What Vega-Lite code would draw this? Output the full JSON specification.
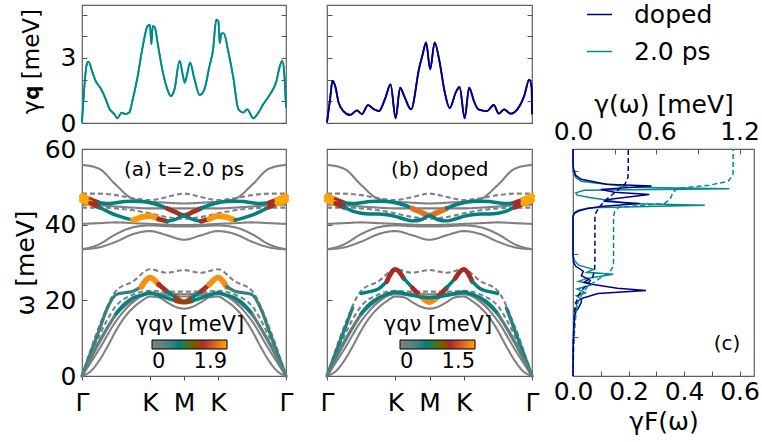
{
"$schema":"https://vega.github.io/schema/vega-lite/v6.json",
"padding":{"left":12,"top":0,"right":0,"bottom":0},
"background":"white",
"columns":3,
"bounds":"flush",
"align":"each",
"spacing":{"row":26,"column":41},
"config":{
 "font":"DejaVu Sans",
 "view":{"stroke":"#606060","strokeWidth":1.2},
 "axis":{"labelFont":"DejaVu Sans","titleFont":"DejaVu Sans","labelFontSize":25,"titleFontSize":25,"titleFontWeight":"normal","labelColor":"black","titleColor":"black","tickColor":"#555","domain":false,"grid":false,"labelFlush":false,"labelOverlap":false,"tickWidth":1},
 "legend":{"labelFont":"DejaVu Sans","titleFont":"DejaVu Sans","titleFontWeight":"normal","labelColor":"black","titleColor":"black"}
},
"datasets":{
"topA":[{"x":0,"v":0.03},{"x":0.14,"v":2.7},{"x":0.19,"v":2.83},{"x":0.31,"v":2.32},{"x":0.4,"v":1.94},{"x":0.55,"v":1.6},{"x":0.7,"v":1.09},{"x":0.8,"v":0.68},{"x":0.95,"v":0.41},{"x":1.04,"v":0.22},{"x":1.17,"v":0.48},{"x":1.27,"v":0.41},{"x":1.39,"v":0.48},{"x":1.48,"v":1.0},{"x":1.63,"v":2.09},{"x":1.78,"v":3.47},{"x":1.93,"v":4.47},{"x":2.0,"v":4.52},{"x":2.04,"v":3.63},{"x":2.08,"v":4.47},{"x":2.14,"v":4.42},{"x":2.23,"v":3.63},{"x":2.38,"v":2.32},{"x":2.53,"v":1.47},{"x":2.61,"v":1.24},{"x":2.72,"v":1.55},{"x":2.87,"v":2.86},{"x":2.97,"v":2.17},{"x":3.02,"v":1.86},{"x":3.08,"v":2.17},{"x":3.18,"v":2.78},{"x":3.31,"v":2.0},{"x":3.46,"v":1.29},{"x":3.6,"v":1.55},{"x":3.75,"v":2.63},{"x":3.85,"v":3.32},{"x":3.95,"v":4.77},{"x":4.01,"v":4.7},{"x":4.05,"v":3.68},{"x":4.1,"v":4.13},{"x":4.17,"v":4.13},{"x":4.3,"v":3.32},{"x":4.45,"v":2.09},{"x":4.6,"v":0.63},{"x":4.74,"v":0.48},{"x":4.86,"v":0.63},{"x":5.04,"v":0.22},{"x":5.19,"v":0.48},{"x":5.33,"v":0.86},{"x":5.53,"v":1.32},{"x":5.72,"v":1.94},{"x":5.82,"v":2.63},{"x":5.89,"v":2.86},{"x":5.95,"v":2.25},{"x":6.0,"v":0.72}],
"topB":[{"x":0,"v":0.03},{"x":0.09,"v":1.09},{"x":0.16,"v":1.95},{"x":0.24,"v":1.7},{"x":0.34,"v":0.94},{"x":0.48,"v":0.55},{"x":0.68,"v":0.37},{"x":0.88,"v":0.58},{"x":1.02,"v":0.41},{"x":1.2,"v":0.82},{"x":1.37,"v":0.64},{"x":1.52,"v":0.55},{"x":1.71,"v":1.16},{"x":1.86,"v":1.78},{"x":2.01,"v":0.22},{"x":2.14,"v":1.63},{"x":2.26,"v":1.24},{"x":2.46,"v":0.63},{"x":2.7,"v":2.55},{"x":2.8,"v":3.16},{"x":2.9,"v":3.72},{"x":3.02,"v":2.47},{"x":3.15,"v":3.72},{"x":3.29,"v":2.86},{"x":3.44,"v":1.47},{"x":3.59,"v":0.69},{"x":3.77,"v":1.41},{"x":3.88,"v":1.66},{"x":4.03,"v":0.22},{"x":4.16,"v":1.63},{"x":4.3,"v":1.01},{"x":4.43,"v":0.63},{"x":4.68,"v":0.55},{"x":4.88,"v":0.83},{"x":5.03,"v":0.43},{"x":5.18,"v":0.63},{"x":5.37,"v":0.43},{"x":5.57,"v":0.63},{"x":5.77,"v":1.24},{"x":5.92,"v":2.0},{"x":5.99,"v":1.63},{"x":6.0,"v":0.4}],
"gray":[
{"b":"G1","x":0,"w":55.8},{"b":"G1","x":0.5,"w":54.8},{"b":"G1","x":1,"w":50.5},{"b":"G1","x":1.5,"w":46.8},{"b":"G1","x":2,"w":46.1},{"b":"G1","x":2.5,"w":45.8},{"b":"G1","x":3,"w":45.6},{"b":"G1","x":3.5,"w":45.8},{"b":"G1","x":4,"w":46.1},{"b":"G1","x":4.5,"w":46.8},{"b":"G1","x":5,"w":50.5},{"b":"G1","x":5.5,"w":54.8},{"b":"G1","x":6,"w":55.8},
{"b":"G2","x":0,"w":45.3},{"b":"G2","x":0.5,"w":45.1},{"b":"G2","x":1,"w":44.8},{"b":"G2","x":1.5,"w":44.5},{"b":"G2","x":2,"w":44.3},{"b":"G2","x":2.5,"w":44.3},{"b":"G2","x":3,"w":44.3},{"b":"G2","x":3.5,"w":44.3},{"b":"G2","x":4,"w":44.3},{"b":"G2","x":4.5,"w":44.5},{"b":"G2","x":5,"w":44.8},{"b":"G2","x":5.5,"w":45.1},{"b":"G2","x":6,"w":45.3},
{"b":"G3","x":0,"w":40.2},{"b":"G3","x":0.5,"w":40.4},{"b":"G3","x":1,"w":40.6},{"b":"G3","x":1.5,"w":40.4},{"b":"G3","x":2,"w":40.2},{"b":"G3","x":2.5,"w":40.0},{"b":"G3","x":3,"w":39.9},{"b":"G3","x":3.5,"w":40.0},{"b":"G3","x":4,"w":40.2},{"b":"G3","x":4.5,"w":40.4},{"b":"G3","x":5,"w":40.6},{"b":"G3","x":5.5,"w":40.4},{"b":"G3","x":6,"w":40.2},
{"b":"G4","x":0,"w":33.5},{"b":"G4","x":0.5,"w":34.8},{"b":"G4","x":1,"w":37.5},{"b":"G4","x":1.5,"w":39.3},{"b":"G4","x":2,"w":39.8},{"b":"G4","x":2.5,"w":39.6},{"b":"G4","x":3,"w":39.5},{"b":"G4","x":3.5,"w":39.6},{"b":"G4","x":4,"w":39.8},{"b":"G4","x":4.5,"w":39.3},{"b":"G4","x":5,"w":37.5},{"b":"G4","x":5.5,"w":34.8},{"b":"G4","x":6,"w":33.5},
{"b":"G5","x":0,"w":33.5},{"b":"G5","x":0.5,"w":34.0},{"b":"G5","x":1,"w":35.5},{"b":"G5","x":1.5,"w":37.5},{"b":"G5","x":2,"w":38.3},{"b":"G5","x":2.5,"w":37.2},{"b":"G5","x":3,"w":36.0},{"b":"G5","x":3.5,"w":37.2},{"b":"G5","x":4,"w":38.3},{"b":"G5","x":4.5,"w":37.5},{"b":"G5","x":5,"w":35.5},{"b":"G5","x":5.5,"w":34.0},{"b":"G5","x":6,"w":33.5},
{"b":"D1","x":0,"w":48.2},{"b":"D1","x":0.5,"w":48.2},{"b":"D1","x":1,"w":47.8},{"b":"D1","x":1.5,"w":47.0},{"b":"D1","x":2,"w":46.5},{"b":"D1","x":2.5,"w":47.3},{"b":"D1","x":3,"w":48.2},{"b":"D1","x":3.5,"w":47.3},{"b":"D1","x":4,"w":46.5},{"b":"D1","x":4.5,"w":47.0},{"b":"D1","x":5,"w":47.8},{"b":"D1","x":5.5,"w":48.2},{"b":"D1","x":6,"w":48.2},
{"b":"D2","x":0,"w":44.5},{"b":"D2","x":0.5,"w":44.5},{"b":"D2","x":1,"w":44.3},{"b":"D2","x":1.5,"w":43.8},{"b":"D2","x":2,"w":43.0},{"b":"D2","x":2.5,"w":42.0},{"b":"D2","x":3,"w":41.6},{"b":"D2","x":3.5,"w":42.0},{"b":"D2","x":4,"w":43.0},{"b":"D2","x":4.5,"w":43.8},{"b":"D2","x":5,"w":44.3},{"b":"D2","x":5.5,"w":44.5},{"b":"D2","x":6,"w":44.5},
{"b":"G6","x":0,"w":0},{"b":"G6","x":0.5,"w":8.5},{"b":"G6","x":1,"w":16},{"b":"G6","x":1.5,"w":20},{"b":"G6","x":2,"w":21.6},{"b":"G6","x":2.5,"w":21.3},{"b":"G6","x":3,"w":21.0},{"b":"G6","x":3.5,"w":21.3},{"b":"G6","x":4,"w":21.6},{"b":"G6","x":4.5,"w":20},{"b":"G6","x":5,"w":16},{"b":"G6","x":5.5,"w":8.5},{"b":"G6","x":6,"w":0},
{"b":"G8","x":0,"w":0},{"b":"G8","x":0.5,"w":7},{"b":"G8","x":1,"w":14.5},{"b":"G8","x":1.5,"w":19.5},{"b":"G8","x":2,"w":21.8},{"b":"G8","x":2.5,"w":21.8},{"b":"G8","x":3,"w":21.6},{"b":"G8","x":3.5,"w":21.8},{"b":"G8","x":4,"w":21.8},{"b":"G8","x":4.5,"w":19.5},{"b":"G8","x":5,"w":14.5},{"b":"G8","x":5.5,"w":7},{"b":"G8","x":6,"w":0},
{"b":"D4","x":0,"w":0},{"b":"D4","x":0.5,"w":13},{"b":"D4","x":1,"w":22.5},{"b":"D4","x":1.5,"w":25},{"b":"D4","x":2,"w":28.2},{"b":"D4","x":2.5,"w":27.3},{"b":"D4","x":3,"w":28.0},{"b":"D4","x":3.5,"w":27.3},{"b":"D4","x":4,"w":28.2},{"b":"D4","x":4.5,"w":25},{"b":"D4","x":5,"w":22.5},{"b":"D4","x":5.5,"w":13},{"b":"D4","x":6,"w":0},
{"b":"D5","x":0,"w":0},{"b":"D5","x":0.5,"w":10.5},{"b":"D5","x":1,"w":18.5},{"b":"D5","x":1.5,"w":21.5},{"b":"D5","x":2,"w":22.5},{"b":"D5","x":2.5,"w":22.3},{"b":"D5","x":3,"w":22.3},{"b":"D5","x":3.5,"w":22.3},{"b":"D5","x":4,"w":22.5},{"b":"D5","x":4.5,"w":21.5},{"b":"D5","x":5,"w":18.5},{"b":"D5","x":5.5,"w":10.5},{"b":"D5","x":6,"w":0},
{"b":"G7","x":0,"w":0},{"b":"G7","x":0.25,"w":1.2},{"b":"G7","x":0.5,"w":4},{"b":"G7","x":0.75,"w":7.8},{"b":"G7","x":1,"w":12},{"b":"G7","x":1.25,"w":15.5},{"b":"G7","x":1.5,"w":18},{"b":"G7","x":1.75,"w":19.8},{"b":"G7","x":2,"w":21},{"b":"G7","x":2.25,"w":20.8},{"b":"G7","x":2.5,"w":19.5},{"b":"G7","x":2.75,"w":18.3},{"b":"G7","x":3,"w":17.8},{"b":"G7","x":3.25,"w":18.3},{"b":"G7","x":3.5,"w":19.5},{"b":"G7","x":3.75,"w":20.8},{"b":"G7","x":4,"w":21},{"b":"G7","x":4.25,"w":19.8},{"b":"G7","x":4.5,"w":18},{"b":"G7","x":4.75,"w":15.5},{"b":"G7","x":5,"w":12},{"b":"G7","x":5.25,"w":7.8},{"b":"G7","x":5.5,"w":4},{"b":"G7","x":5.75,"w":1.2},{"b":"G7","x":6,"w":0}
],
"colA":[
{"k":"A1","x":0,"w":47.5,"g":1.9},{"k":"A1","x":0.25,"w":46.6,"g":1.9},
{"k":"A2","x":0.25,"w":46.6,"g":1.25},{"k":"A2","x":0.5,"w":45.8,"g":1.25},
{"k":"A3","x":0.5,"w":45.8,"g":0.63},{"k":"A3","x":0.75,"w":45.6,"g":0.63},{"k":"A3","x":1,"w":45.8,"g":0.63},{"k":"A3","x":1.25,"w":46.1,"g":0.63},{"k":"A3","x":1.5,"w":46.2,"g":0.63},{"k":"A3","x":1.75,"w":46.1,"g":0.63},{"k":"A3","x":2,"w":45.8,"g":0.63},{"k":"A3","x":2.25,"w":45.2,"g":0.63},{"k":"A3","x":2.5,"w":44.3,"g":0.63},
{"k":"A4","x":2.5,"w":44.3,"g":1.25},{"k":"A4","x":2.75,"w":43.3,"g":1.25},{"k":"A4","x":3,"w":42.4,"g":1.25},{"k":"A4","x":3.25,"w":43.3,"g":1.25},{"k":"A4","x":3.5,"w":44.3,"g":1.25},
{"k":"A5","x":3.5,"w":44.3,"g":0.63},{"k":"A5","x":3.75,"w":45.2,"g":0.63},{"k":"A5","x":4,"w":45.8,"g":0.63},{"k":"A5","x":4.25,"w":46.1,"g":0.63},{"k":"A5","x":4.5,"w":46.2,"g":0.63},{"k":"A5","x":4.75,"w":46.1,"g":0.63},{"k":"A5","x":5,"w":45.8,"g":0.63},{"k":"A5","x":5.25,"w":45.6,"g":0.63},{"k":"A5","x":5.5,"w":45.8,"g":0.63},
{"k":"A6","x":5.5,"w":45.8,"g":1.25},{"k":"A6","x":5.75,"w":46.6,"g":1.25},
{"k":"A7","x":5.75,"w":46.6,"g":1.9},{"k":"A7","x":6,"w":47.5,"g":1.9},
{"k":"B1","x":0,"w":46.5,"g":1.9},{"k":"B1","x":0.25,"w":45.7,"g":1.9},
{"k":"B2","x":0.25,"w":45.7,"g":1.25},{"k":"B2","x":0.5,"w":44.6,"g":1.25},
{"k":"B3","x":0.5,"w":44.6,"g":0.63},{"k":"B3","x":0.75,"w":43.5,"g":0.63},{"k":"B3","x":1,"w":42.5,"g":0.63},{"k":"B3","x":1.25,"w":41.8,"g":0.63},{"k":"B3","x":1.5,"w":41.2,"g":0.63},
{"k":"B4","x":1.5,"w":41.2,"g":1.85},{"k":"B4","x":1.75,"w":42.0,"g":1.85},{"k":"B4","x":2,"w":42.3,"g":1.85},{"k":"B4","x":2.25,"w":41.5,"g":1.85},
{"k":"B5","x":2.25,"w":41.5,"g":1.25},{"k":"B5","x":2.5,"w":40.9,"g":1.25},
{"k":"B6","x":2.5,"w":40.9,"g":0.63},{"k":"B6","x":2.75,"w":41.4,"g":0.63},{"k":"B6","x":3,"w":42.4,"g":0.63},{"k":"B6","x":3.25,"w":41.4,"g":0.63},{"k":"B6","x":3.5,"w":40.9,"g":0.63},
{"k":"B7","x":3.5,"w":40.9,"g":1.25},{"k":"B7","x":3.75,"w":41.5,"g":1.25},
{"k":"B8","x":3.75,"w":41.5,"g":1.85},{"k":"B8","x":4,"w":42.3,"g":1.85},{"k":"B8","x":4.25,"w":42.0,"g":1.85},{"k":"B8","x":4.5,"w":41.2,"g":1.85},
{"k":"B9","x":4.5,"w":41.2,"g":0.63},{"k":"B9","x":4.75,"w":41.8,"g":0.63},{"k":"B9","x":5,"w":42.5,"g":0.63},{"k":"B9","x":5.25,"w":43.5,"g":0.63},{"k":"B9","x":5.5,"w":44.6,"g":0.63},
{"k":"B10","x":5.5,"w":44.6,"g":1.25},{"k":"B10","x":5.75,"w":45.7,"g":1.25},
{"k":"B11","x":5.75,"w":45.7,"g":1.9},{"k":"B11","x":6,"w":46.5,"g":1.9},
{"k":"C1","x":0,"w":0,"g":0.5},{"k":"C1","x":0.25,"w":6,"g":0.5},{"k":"C1","x":0.5,"w":12,"g":0.5},{"k":"C1","x":0.75,"w":18,"g":0.5},{"k":"C1","x":1,"w":21.5,"g":0.5},{"k":"C1","x":1.25,"w":22.0,"g":0.5},{"k":"C1","x":1.5,"w":22.4,"g":0.5},{"k":"C1","x":1.75,"w":23.6,"g":0.5},
{"k":"C2","x":1.75,"w":23.6,"g":1.8},{"k":"C2","x":2,"w":26.0,"g":1.8},{"k":"C2","x":2.25,"w":24.2,"g":1.8},
{"k":"C3","x":2.25,"w":24.2,"g":1.25},{"k":"C3","x":2.5,"w":22.4,"g":1.25},
{"k":"C4","x":2.5,"w":22.4,"g":0.63},{"k":"C4","x":2.75,"w":20.8,"g":0.63},
{"k":"C5","x":2.75,"w":20.8,"g":1.2},{"k":"C5","x":3,"w":19.6,"g":1.2},{"k":"C5","x":3.25,"w":20.8,"g":1.2},
{"k":"C6","x":3.25,"w":20.8,"g":0.63},{"k":"C6","x":3.5,"w":22.4,"g":0.63},
{"k":"C7","x":3.5,"w":22.4,"g":1.25},{"k":"C7","x":3.75,"w":24.2,"g":1.25},
{"k":"C8","x":3.75,"w":24.2,"g":1.8},{"k":"C8","x":4,"w":26.0,"g":1.8},{"k":"C8","x":4.25,"w":23.6,"g":1.8},
{"k":"C9","x":4.25,"w":23.6,"g":0.5},{"k":"C9","x":4.5,"w":22.4,"g":0.5},{"k":"C9","x":4.75,"w":22.0,"g":0.5},{"k":"C9","x":5,"w":21.5,"g":0.5},{"k":"C9","x":5.25,"w":18,"g":0.5},{"k":"C9","x":5.5,"w":12,"g":0.5},{"k":"C9","x":5.75,"w":6,"g":0.5},{"k":"C9","x":6,"w":0,"g":0.5},
{"k":"D1","x":0,"w":0,"g":0.3},{"k":"D1","x":0.5,"w":9,"g":0.3},{"k":"D1","x":1,"w":16.5,"g":0.3},
{"k":"D2","x":1,"w":16.5,"g":0.63},{"k":"D2","x":1.25,"w":19,"g":0.63},{"k":"D2","x":1.5,"w":20.6,"g":0.63},{"k":"D2","x":1.75,"w":21.4,"g":0.63},{"k":"D2","x":2,"w":22.0,"g":0.63},{"k":"D2","x":2.25,"w":21.4,"g":0.63},{"k":"D2","x":2.5,"w":20.6,"g":0.63},{"k":"D2","x":2.75,"w":19.9,"g":0.63},
{"k":"D3","x":2.75,"w":19.9,"g":1.2},{"k":"D3","x":3,"w":19.5,"g":1.2},{"k":"D3","x":3.25,"w":19.9,"g":1.2},
{"k":"D4","x":3.25,"w":19.9,"g":0.63},{"k":"D4","x":3.5,"w":20.6,"g":0.63},{"k":"D4","x":3.75,"w":21.4,"g":0.63},{"k":"D4","x":4,"w":22.0,"g":0.63},{"k":"D4","x":4.25,"w":21.4,"g":0.63},{"k":"D4","x":4.5,"w":20.6,"g":0.63},{"k":"D4","x":4.75,"w":19,"g":0.63},{"k":"D4","x":5,"w":16.5,"g":0.63},
{"k":"D5","x":5,"w":16.5,"g":0.3},{"k":"D5","x":5.5,"w":9,"g":0.3},{"k":"D5","x":6,"w":0,"g":0.3}
],
"colB":[
{"k":"A1","x":0,"w":47.5,"g":1.5},{"k":"A1","x":0.25,"w":46.6,"g":1.5},
{"k":"A2","x":0.25,"w":46.6,"g":1.0},{"k":"A2","x":0.5,"w":45.8,"g":1.0},
{"k":"A3","x":0.5,"w":45.8,"g":0.5},{"k":"A3","x":0.75,"w":45.6,"g":0.5},{"k":"A3","x":1,"w":45.8,"g":0.5},{"k":"A3","x":1.25,"w":46.1,"g":0.5},{"k":"A3","x":1.5,"w":46.2,"g":0.5},{"k":"A3","x":1.75,"w":46.1,"g":0.5},{"k":"A3","x":2,"w":45.8,"g":0.5},{"k":"A3","x":2.25,"w":45.2,"g":0.5},{"k":"A3","x":2.5,"w":44.3,"g":0.5},
{"k":"A4","x":2.5,"w":44.3,"g":1.3},{"k":"A4","x":2.75,"w":43.3,"g":1.3},{"k":"A4","x":3,"w":42.4,"g":1.3},{"k":"A4","x":3.25,"w":43.3,"g":1.3},{"k":"A4","x":3.5,"w":44.3,"g":1.3},
{"k":"A5","x":3.5,"w":44.3,"g":0.5},{"k":"A5","x":3.75,"w":45.2,"g":0.5},{"k":"A5","x":4,"w":45.8,"g":0.5},{"k":"A5","x":4.25,"w":46.1,"g":0.5},{"k":"A5","x":4.5,"w":46.2,"g":0.5},{"k":"A5","x":4.75,"w":46.1,"g":0.5},{"k":"A5","x":5,"w":45.8,"g":0.5},{"k":"A5","x":5.25,"w":45.6,"g":0.5},{"k":"A5","x":5.5,"w":45.8,"g":0.5},
{"k":"A6","x":5.5,"w":45.8,"g":1.0},{"k":"A6","x":5.75,"w":46.6,"g":1.0},
{"k":"A7","x":5.75,"w":46.6,"g":1.5},{"k":"A7","x":6,"w":47.5,"g":1.5},
{"k":"B1","x":0,"w":46.5,"g":1.5},{"k":"B1","x":0.25,"w":45.6,"g":1.5},
{"k":"B2","x":0.25,"w":45.6,"g":1.0},{"k":"B2","x":0.5,"w":44.6,"g":1.0},
{"k":"B3","x":0.5,"w":44.6,"g":0.5},{"k":"B3","x":0.75,"w":43.6,"g":0.5},{"k":"B3","x":1,"w":43.0,"g":0.5},{"k":"B3","x":1.25,"w":42.8,"g":0.5},{"k":"B3","x":1.5,"w":42.8,"g":0.5},{"k":"B3","x":1.75,"w":42.6,"g":0.5},{"k":"B3","x":2,"w":42.2,"g":0.5},{"k":"B3","x":2.25,"w":41.5,"g":0.5},{"k":"B3","x":2.5,"w":41.0,"g":0.5},{"k":"B3","x":2.75,"w":41.3,"g":0.5},{"k":"B3","x":3,"w":42.4,"g":0.5},{"k":"B3","x":3.25,"w":41.3,"g":0.5},{"k":"B3","x":3.5,"w":41.0,"g":0.5},{"k":"B3","x":3.75,"w":41.5,"g":0.5},{"k":"B3","x":4,"w":42.2,"g":0.5},{"k":"B3","x":4.25,"w":42.6,"g":0.5},{"k":"B3","x":4.5,"w":42.8,"g":0.5},{"k":"B3","x":4.75,"w":42.8,"g":0.5},{"k":"B3","x":5,"w":43.0,"g":0.5},{"k":"B3","x":5.25,"w":43.6,"g":0.5},{"k":"B3","x":5.5,"w":44.6,"g":0.5},
{"k":"B4","x":5.5,"w":44.6,"g":1.0},{"k":"B4","x":5.75,"w":45.6,"g":1.0},
{"k":"B5","x":5.75,"w":45.6,"g":1.5},{"k":"B5","x":6,"w":46.5,"g":1.5},
{"k":"C1","x":0,"w":0,"g":0.45},{"k":"C1","x":0.25,"w":6,"g":0.45},{"k":"C1","x":0.5,"w":12,"g":0.45},{"k":"C1","x":0.75,"w":18,"g":0.45},{"k":"C1","x":1,"w":21.8,"g":0.5},{"k":"C1","x":1.25,"w":22.3,"g":0.5},{"k":"C1","x":1.5,"w":23.0,"g":0.5},{"k":"C1","x":1.75,"w":25.0,"g":0.5},
{"k":"C2","x":1.75,"w":25.0,"g":1.0},{"k":"C2","x":2,"w":28.2,"g":1.0},{"k":"C2","x":2.25,"w":25.8,"g":1.0},
{"k":"C3","x":2.25,"w":25.8,"g":0.5},{"k":"C3","x":2.5,"w":23.3,"g":0.5},
{"k":"C4","x":2.5,"w":23.3,"g":1.0},{"k":"C4","x":2.75,"w":21.0,"g":1.0},
{"k":"C5","x":2.75,"w":21.0,"g":1.4},{"k":"C5","x":3,"w":19.5,"g":1.4},{"k":"C5","x":3.25,"w":21.0,"g":1.4},
{"k":"C6","x":3.25,"w":21.0,"g":1.0},{"k":"C6","x":3.5,"w":23.3,"g":1.0},
{"k":"C7","x":3.5,"w":23.3,"g":0.5},{"k":"C7","x":3.75,"w":25.8,"g":0.5},
{"k":"C8","x":3.75,"w":25.8,"g":1.0},{"k":"C8","x":4,"w":28.2,"g":1.0},{"k":"C8","x":4.25,"w":25.0,"g":1.0},
{"k":"C9","x":4.25,"w":25.0,"g":0.5},{"k":"C9","x":4.5,"w":23.0,"g":0.5},{"k":"C9","x":4.75,"w":22.3,"g":0.5},{"k":"C9","x":5,"w":21.8,"g":0.5},{"k":"C9","x":5.25,"w":18,"g":0.45},{"k":"C9","x":5.5,"w":12,"g":0.45},{"k":"C9","x":5.75,"w":6,"g":0.45},{"k":"C9","x":6,"w":0,"g":0.45},
{"k":"D1","x":0,"w":0,"g":0.25},{"k":"D1","x":0.5,"w":9,"g":0.25},{"k":"D1","x":1,"w":16.5,"g":0.25},
{"k":"D2","x":1,"w":16.5,"g":0.5},{"k":"D2","x":1.25,"w":19,"g":0.5},{"k":"D2","x":1.5,"w":20.6,"g":0.5},{"k":"D2","x":1.75,"w":21.6,"g":0.5},{"k":"D2","x":2,"w":22.2,"g":0.5},{"k":"D2","x":2.25,"w":21.8,"g":0.5},{"k":"D2","x":2.5,"w":21.3,"g":0.5},{"k":"D2","x":2.75,"w":20.9,"g":0.5},{"k":"D2","x":3,"w":20.7,"g":0.5},{"k":"D2","x":3.25,"w":20.9,"g":0.5},{"k":"D2","x":3.5,"w":21.3,"g":0.5},{"k":"D2","x":3.75,"w":21.8,"g":0.5},{"k":"D2","x":4,"w":22.2,"g":0.5},{"k":"D2","x":4.25,"w":21.6,"g":0.5},{"k":"D2","x":4.5,"w":20.6,"g":0.5},{"k":"D2","x":4.75,"w":19,"g":0.5},{"k":"D2","x":5,"w":16.5,"g":0.5},
{"k":"D3","x":5,"w":16.5,"g":0.25},{"k":"D3","x":5.5,"w":9,"g":0.25},{"k":"D3","x":6,"w":0,"g":0.25}
],
"gF":[
{"s":"2.0 ps","v":0,"w":0},{"s":"2.0 ps","v":0.001,"w":8},{"s":"2.0 ps","v":0.003,"w":14},{"s":"2.0 ps","v":0.006,"w":17},{"s":"2.0 ps","v":0.015,"w":18.5},{"s":"2.0 ps","v":0.008,"w":19.5},{"s":"2.0 ps","v":0.03,"w":20.3},{"s":"2.0 ps","v":0.012,"w":21.2},{"s":"2.0 ps","v":0.045,"w":22},{"s":"2.0 ps","v":0.015,"w":23},{"s":"2.0 ps","v":0.07,"w":24.2},{"s":"2.0 ps","v":0.02,"w":25},{"s":"2.0 ps","v":0.05,"w":25.8},{"s":"2.0 ps","v":0.145,"w":26.9},{"s":"2.0 ps","v":0.05,"w":27.4},{"s":"2.0 ps","v":0.073,"w":28.2},{"s":"2.0 ps","v":0.02,"w":29.3},{"s":"2.0 ps","v":0.005,"w":30.5},{"s":"2.0 ps","v":0,"w":32},{"s":"2.0 ps","v":0,"w":42.5},{"s":"2.0 ps","v":0.008,"w":43.3},{"s":"2.0 ps","v":0.02,"w":43.8},{"s":"2.0 ps","v":0.06,"w":44.5},{"s":"2.0 ps","v":0.475,"w":45.1},{"s":"2.0 ps","v":0.2,"w":45.6},{"s":"2.0 ps","v":0.16,"w":46},{"s":"2.0 ps","v":0.12,"w":46.5},{"s":"2.0 ps","v":0.06,"w":47.2},{"s":"2.0 ps","v":0.015,"w":47.8},{"s":"2.0 ps","v":0.01,"w":48.4},{"s":"2.0 ps","v":0.04,"w":49.1},{"s":"2.0 ps","v":0.563,"w":49.5},{"s":"2.0 ps","v":0.2,"w":49.9},{"s":"2.0 ps","v":0.15,"w":50.5},{"s":"2.0 ps","v":0.08,"w":51},{"s":"2.0 ps","v":0.03,"w":51.5},{"s":"2.0 ps","v":0.01,"w":52.5},{"s":"2.0 ps","v":0,"w":54},{"s":"2.0 ps","v":0,"w":60},
{"s":"doped","v":0,"w":0},{"s":"doped","v":0.001,"w":8},{"s":"doped","v":0.004,"w":14},{"s":"doped","v":0.01,"w":17},{"s":"doped","v":0.02,"w":18},{"s":"doped","v":0.03,"w":19.5},{"s":"doped","v":0.03,"w":20.5},{"s":"doped","v":0.09,"w":21.8},{"s":"doped","v":0.263,"w":22.6},{"s":"doped","v":0.16,"w":23.2},{"s":"doped","v":0.073,"w":24.2},{"s":"doped","v":0.04,"w":24.8},{"s":"doped","v":0.057,"w":25.5},{"s":"doped","v":0.03,"w":26.5},{"s":"doped","v":0.037,"w":27.7},{"s":"doped","v":0.01,"w":29},{"s":"doped","v":0.002,"w":30},{"s":"doped","v":0,"w":32},{"s":"doped","v":0,"w":42},{"s":"doped","v":0.005,"w":43},{"s":"doped","v":0.02,"w":43.6},{"s":"doped","v":0.05,"w":44.2},{"s":"doped","v":0.1,"w":44.8},{"s":"doped","v":0.24,"w":45.6},{"s":"doped","v":0.11,"w":46.2},{"s":"doped","v":0.14,"w":46.8},{"s":"doped","v":0.275,"w":48},{"s":"doped","v":0.15,"w":48.6},{"s":"doped","v":0.1,"w":49.3},{"s":"doped","v":0.283,"w":50.2},{"s":"doped","v":0.12,"w":50.7},{"s":"doped","v":0.08,"w":51.3},{"s":"doped","v":0.03,"w":52},{"s":"doped","v":0.01,"w":53},{"s":"doped","v":0.003,"w":54.5},{"s":"doped","v":0,"w":55.5},{"s":"doped","v":0,"w":60}
],
"gw":[
{"s":"2.0 ps","v":0,"w":0},{"s":"2.0 ps","v":0.005,"w":8},{"s":"2.0 ps","v":0.015,"w":14},{"s":"2.0 ps","v":0.026,"w":18},{"s":"2.0 ps","v":0.04,"w":20},{"s":"2.0 ps","v":0.07,"w":22},{"s":"2.0 ps","v":0.1,"w":23.4},{"s":"2.0 ps","v":0.14,"w":24.5},{"s":"2.0 ps","v":0.2,"w":26},{"s":"2.0 ps","v":0.26,"w":27.3},{"s":"2.0 ps","v":0.285,"w":28.6},{"s":"2.0 ps","v":0.292,"w":30},{"s":"2.0 ps","v":0.292,"w":42},{"s":"2.0 ps","v":0.3,"w":43.5},{"s":"2.0 ps","v":0.33,"w":44.6},{"s":"2.0 ps","v":0.66,"w":45.6},{"s":"2.0 ps","v":0.7,"w":46.8},{"s":"2.0 ps","v":0.72,"w":48.5},{"s":"2.0 ps","v":0.75,"w":49.6},{"s":"2.0 ps","v":0.98,"w":50.4},{"s":"2.0 ps","v":1.12,"w":51.5},{"s":"2.0 ps","v":1.154,"w":53.5},{"s":"2.0 ps","v":1.154,"w":60},
{"s":"doped","v":0,"w":0},{"s":"doped","v":0.003,"w":10},{"s":"doped","v":0.01,"w":17},{"s":"doped","v":0.02,"w":19},{"s":"doped","v":0.035,"w":21},{"s":"doped","v":0.06,"w":22.5},{"s":"doped","v":0.11,"w":24.5},{"s":"doped","v":0.14,"w":26},{"s":"doped","v":0.155,"w":27.8},{"s":"doped","v":0.158,"w":30},{"s":"doped","v":0.158,"w":42},{"s":"doped","v":0.166,"w":43.2},{"s":"doped","v":0.194,"w":44.9},{"s":"doped","v":0.242,"w":46.7},{"s":"doped","v":0.314,"w":48.9},{"s":"doped","v":0.374,"w":50.7},{"s":"doped","v":0.396,"w":52.5},{"s":"doped","v":0.398,"w":54},{"s":"doped","v":0.398,"w":60}
]
},
"concat":[
{
 "width":204,"height":118,
 "data":{"name":"topA"},
 "layer":[
  {"mark":{"type":"line","color":"#008b8b","strokeWidth":1.8,"interpolate":"monotone"},
   "encoding":{
    "x":{"field":"x","type":"quantitative","scale":{"domain":[0,6],"nice":false},"axis":{"values":[0,2,3,4,6],"labels":false,"title":null,"tickSize":4}},
    "y":{"field":"v","type":"quantitative","scale":{"domain":[0,5.44],"nice":false},"axis":{"values":[0,1,2,3,4,5],"labelExpr":"datum.value==0||datum.value==3?datum.label:''","title":"γ𝐪 [meV]","titleFontSize":23,"titleY":56,"tickSize":-5,"labelPadding":11,"titlePadding":17}}}},
  {"mark":{"type":"line","color":"#008b8b","strokeWidth":1.8,"interpolate":"monotone"},
   "encoding":{
    "x":{"field":"x","type":"quantitative","axis":null},
    "y":{"field":"v","type":"quantitative","axis":{"orient":"right","values":[0,1,2,3,4,5],"labels":false,"title":null,"tickSize":-5}}}}
 ],
 "resolve":{"axis":{"y":"independent"}}
},
{
 "width":205,"height":118,
 "data":{"name":"topB"},
 "layer":[
  {"mark":{"type":"line","color":"#00008b","strokeWidth":1.8,"interpolate":"monotone"},
   "encoding":{
    "x":{"field":"x","type":"quantitative","scale":{"domain":[0,6],"nice":false},"axis":{"values":[0,2,3,4,6],"labels":false,"title":null,"tickSize":4}},
    "y":{"field":"v","type":"quantitative","scale":{"domain":[0,5.44],"nice":false},"axis":{"values":[0,1,2,3,4,5],"labels":false,"title":null,"tickSize":-5}}}},
  {"mark":{"type":"line","color":"#00008b","strokeWidth":1.8,"interpolate":"monotone"},
   "encoding":{
    "x":{"field":"x","type":"quantitative","axis":null},
    "y":{"field":"v","type":"quantitative","axis":{"orient":"right","values":[0,1,2,3,4,5],"labels":false,"title":null,"tickSize":-5}}}}
 ],
 "resolve":{"axis":{"y":"independent"}}
},
{
 "width":181,"height":118,
 "view":{"stroke":null},
 "data":{"values":[{}]},
 "mark":{"type":"text"},
 "encoding":{"text":{"value":""}}
},
{
 "width":204,"height":227,
 "layer":[
  {"data":{"name":"gray"},
   "mark":{"type":"line","color":"#808080","interpolate":"monotone"},
   "encoding":{
    "x":{"field":"x","type":"quantitative","scale":{"domain":[0,6],"nice":false},"axis":{"values":[0,2,3,4,6],"labelExpr":"['Γ','','K','M','K','','Γ'][datum.value]","title":null,"tickSize":4,"labelPadding":10}},
    "y":{"field":"w","type":"quantitative","scale":{"domain":[0,60],"nice":false},"axis":{"values":[0,10,20,30,40,50,60],"labelExpr":"datum.value%20==0?datum.label:''","title":"ω [meV]","tickSize":-5,"labelPadding":11,"titlePadding":6}},
    "detail":{"field":"b"},
    "strokeDash":{"field":"b","type":"nominal","scale":{"domain":["G1","G2","G3","G4","G5","G6","G7","G8","D1","D2","D4","D5"],"range":[[1,0],[1,0],[1,0],[1,0],[1,0],[1,0],[1,0],[1,0],[5,3],[5,3],[5,3],[5,3]]},"legend":null},
    "strokeWidth":{"field":"b","type":"nominal","scale":{"domain":["G1","G2","G3","G4","G5","G6","G7","G8","D1","D2","D4","D5"],"range":[2.1,2.1,2.1,2.1,2.1,2.1,2.1,2.1,1.3,1.3,1.3,1.3]},"legend":null}}},
  {"data":{"name":"colA"},
   "mark":{"type":"line","interpolate":"monotone","strokeCap":"round"},
   "encoding":{
    "x":{"field":"x","type":"quantitative"},
    "y":{"field":"w","type":"quantitative"},
    "detail":{"field":"k"},
    "color":{"field":"g","type":"quantitative","scale":{"domain":[0,1.9],"range":["#808080","#008080","#a52a2a","#ffa500"]},
      "legend":{"orient":"none","legendX":54,"legendY":165,"direction":"horizontal","gradientLength":75,"gradientThickness":9,"title":"γqν [meV]","titleFontSize":21,"labelFontSize":21,"values":[0,1.9],"labelExpr":"datum.value==0?'0':format(datum.value,'.1f')","titleAnchor":"middle","labelAlign":"center","gradientStrokeColor":"black","gradientStrokeWidth":1}},
    "strokeWidth":{"field":"g","type":"quantitative","scale":{"domain":[0,1.9],"range":[2.2,6]},"legend":null}}},
  {"data":{"values":[{}]},
   "mark":{"type":"text","fontSize":20,"color":"black"},
   "encoding":{"x":{"datum":3,"type":"quantitative"},"y":{"datum":54.4,"type":"quantitative"},"text":{"value":"(a) t=2.0 ps"}}}
 ]
},
{
 "width":205,"height":227,
 "layer":[
  {"data":{"name":"gray"},
   "mark":{"type":"line","color":"#808080","interpolate":"monotone"},
   "encoding":{
    "x":{"field":"x","type":"quantitative","scale":{"domain":[0,6],"nice":false},"axis":{"values":[0,2,3,4,6],"labelExpr":"['Γ','','K','M','K','','Γ'][datum.value]","title":null,"tickSize":4,"labelPadding":10}},
    "y":{"field":"w","type":"quantitative","scale":{"domain":[0,60],"nice":false},"axis":{"values":[0,10,20,30,40,50,60],"labels":false,"title":null,"tickSize":-5}},
    "detail":{"field":"b"},
    "strokeDash":{"field":"b","type":"nominal","scale":{"domain":["G1","G2","G3","G4","G5","G6","G7","G8","D1","D2","D4","D5"],"range":[[1,0],[1,0],[1,0],[1,0],[1,0],[1,0],[1,0],[1,0],[5,3],[5,3],[5,3],[5,3]]},"legend":null},
    "strokeWidth":{"field":"b","type":"nominal","scale":{"domain":["G1","G2","G3","G4","G5","G6","G7","G8","D1","D2","D4","D5"],"range":[2.1,2.1,2.1,2.1,2.1,2.1,2.1,2.1,1.3,1.3,1.3,1.3]},"legend":null}}},
  {"data":{"name":"colB"},
   "mark":{"type":"line","interpolate":"monotone","strokeCap":"round"},
   "encoding":{
    "x":{"field":"x","type":"quantitative"},
    "y":{"field":"w","type":"quantitative"},
    "detail":{"field":"k"},
    "color":{"field":"g","type":"quantitative","scale":{"domain":[0,1.5],"range":["#808080","#008080","#a52a2a","#ffa500"]},
      "legend":{"orient":"none","legendX":57,"legendY":165,"direction":"horizontal","gradientLength":75,"gradientThickness":9,"title":"γqν [meV]","titleFontSize":21,"labelFontSize":21,"values":[0,1.5],"labelExpr":"datum.value==0?'0':format(datum.value,'.1f')","titleAnchor":"middle","labelAlign":"center","gradientStrokeColor":"black","gradientStrokeWidth":1}},
    "strokeWidth":{"field":"g","type":"quantitative","scale":{"domain":[0,1.5],"range":[2.2,6]},"legend":null}}},
  {"data":{"values":[{}]},
   "mark":{"type":"text","fontSize":20,"color":"black"},
   "encoding":{"x":{"datum":3.3,"type":"quantitative"},"y":{"datum":54.4,"type":"quantitative"},"text":{"value":"(b) doped"}}}
 ]
},
{
 "width":181,"height":227,
 "layer":[
  {"data":{"name":"gF"},
   "mark":{"type":"line","strokeWidth":1.5},
   "encoding":{
    "x":{"field":"v","type":"quantitative","scale":{"domain":[0,0.652],"nice":false},"axis":{"orient":"bottom","values":[0,0.1,0.2,0.3,0.4,0.5,0.6],"labelExpr":"indexof([0,0.2,0.4,0.6],datum.value)>=0?format(datum.value,'.1f'):''","title":"γF(ω)","tickSize":-5,"labelPadding":8,"titlePadding":5}},
    "y":{"field":"w","type":"quantitative","scale":{"domain":[0,60],"nice":false},"axis":{"values":[10.3,32.3,54.3],"labels":false,"title":null,"tickSize":-5}},
    "color":{"field":"s","type":"nominal","scale":{"domain":["doped","2.0 ps"],"range":["#00008b","#008b8b"]},
      "legend":{"orient":"none","legendX":13,"legendY":-148,"title":null,"labelFontSize":25,"symbolType":"stroke","symbolSize":625,"symbolStrokeWidth":1.5,"rowPadding":10,"labelOffset":21}},
    "order":{"field":"w","type":"quantitative"}}},
  {"data":{"name":"gw"},
   "mark":{"type":"line","strokeWidth":1.5,"strokeDash":[5,3]},
   "encoding":{
    "x":{"field":"v","type":"quantitative","scale":{"domain":[0,1.304],"nice":false},"axis":{"orient":"top","values":[0,0.3,0.6,0.9,1.2],"labelExpr":"indexof([0,0.6,1.2],datum.value)>=0?format(datum.value,'.1f'):''","title":"γ(ω) [meV]","tickSize":-5,"labelPadding":10,"titlePadding":2}},
    "y":{"field":"w","type":"quantitative"},
    "color":{"field":"s","type":"nominal"},
    "order":{"field":"w","type":"quantitative"}}},
  {"data":{"values":[{}]},
   "mark":{"type":"text","fontSize":20,"color":"black"},
   "encoding":{"x":{"datum":0.555,"type":"quantitative","scale":{"domain":[0,0.652],"nice":false},"axis":null},"y":{"datum":8.5,"type":"quantitative"},"text":{"value":"(c)"}}}
 ],
 "resolve":{"scale":{"x":"independent"}}
}
]
}
